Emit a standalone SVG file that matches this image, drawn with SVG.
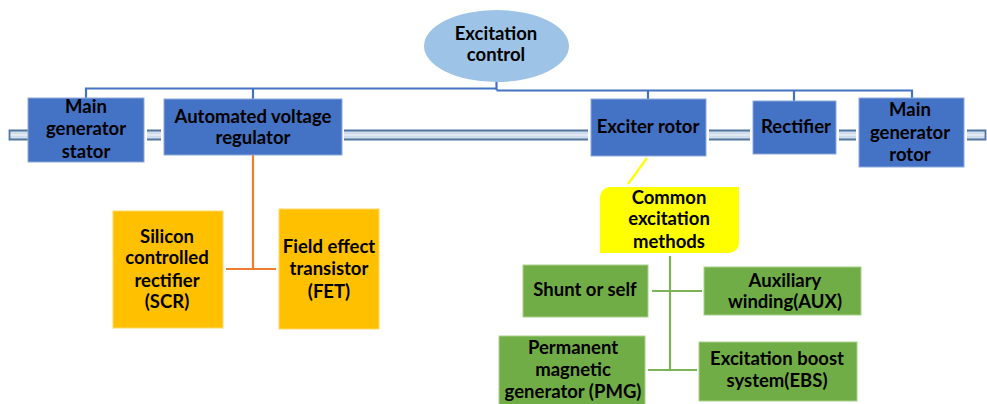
<svg xmlns="http://www.w3.org/2000/svg" width="987" height="404" viewBox="0 0 987 404">
<style>
text{font-family:Lato,"Liberation Sans",sans-serif;font-weight:bold;font-size:18.5px;fill:#000;text-anchor:middle}
.blue{fill:#4472c4;stroke:#8eaadb;stroke-width:1}
.gold{fill:#ffc000;stroke:#ffd966;stroke-width:1}
.green{fill:#70ad47;stroke:#a9d18e;stroke-width:1}
.sf{fill:#cfdcec}
.sw{stroke:#eef2f8;stroke-width:1.2;fill:none}
.sl{stroke:#52769e;stroke-width:1.8;fill:none}
.cb{stroke:#4472c4;stroke-width:2.2;fill:none}
.co{stroke:#ed7d31;stroke-width:2.2;fill:none}
.cy{stroke:#ffff00;stroke-width:2.2;fill:none}
.cg{stroke:#7cb356;stroke-width:2.2;fill:none}
</style>
<rect width="987" height="404" fill="#fff"/>
<g id="shaft">
<rect class="sf" x="9" y="131" width="19" height="8"/>
<path class="sw" d="M10 135H28"/>
<path class="sl" d="M28 130.5H9.5V139.5H28"/>
<rect class="sf" x="147" y="131" width="14" height="8"/>
<path class="sw" d="M147 135H161"/>
<path class="sl" d="M147 130.5H161M147 139.5H161"/>
<rect class="sf" x="344" y="131" width="244" height="8"/>
<path class="sw" d="M344 135H588"/>
<path class="sl" d="M344 130.5H588M344 139.5H588"/>
<rect class="sf" x="709" y="131" width="41" height="8"/>
<path class="sw" d="M709 135H750"/>
<path class="sl" d="M709 130.5H750M709 139.5H750"/>
<rect class="sf" x="839" y="131" width="17" height="8"/>
<path class="sw" d="M839 135H856"/>
<path class="sl" d="M839 130.5H856M839 139.5H856"/>
<rect class="sf" x="967" y="131" width="19" height="8"/>
<path class="sw" d="M967 135H985"/>
<path class="sl" d="M967 130.5H985.5V139.5H967"/>
</g>
<g id="connectors">
<path class="cb" d="M496.5 82V90M86 98V88.5H496.5M253 88.5V99M496.5 90.5H912V98M648 90.5V99M794 90.5V101"/>
<path class="co" d="M253 155V269M226 269H276"/>
<path class="cy" d="M647 158L628 184"/>
<path class="cg" d="M670 256V370M652 291H702M648 370H697"/>
</g>
<g id="excitation-control">
<ellipse cx="496.5" cy="46" rx="72.5" ry="36" fill="#9dc3e6"/>
<text x="496" y="40">Excitation</text>
<text x="496" y="61">control</text>
</g>
<g id="main-generator-stator">
<rect class="blue" x="28" y="98" width="116" height="64"/>
<text x="86" y="113">Main</text>
<text x="86" y="135">generator</text>
<text x="86" y="158">stator</text>
</g>
<g id="avr">
<rect class="blue" x="164" y="99" width="178" height="56"/>
<text x="253" y="123">Automated voltage</text>
<text x="253" y="144">regulator</text>
</g>
<g id="exciter-rotor">
<rect class="blue" x="591" y="99" width="115" height="57"/>
<text x="648" y="133">Exciter rotor</text>
</g>
<g id="rectifier">
<rect class="blue" x="753" y="101" width="83" height="53"/>
<text x="796" y="133">Rectifier</text>
</g>
<g id="main-generator-rotor">
<rect class="blue" x="859" y="98" width="105" height="69"/>
<text x="910" y="116">Main</text>
<text x="910" y="139">generator</text>
<text x="910" y="161">rotor</text>
</g>
<g id="scr">
<rect class="gold" x="113" y="211" width="110" height="117"/>
<text x="167" y="243">Silicon</text>
<text x="167" y="264">controlled</text>
<text x="167" y="287">rectifier</text>
<text x="167" y="308">(SCR)</text>
</g>
<g id="fet">
<rect class="gold" x="279" y="209" width="100" height="120"/>
<text x="329" y="253">Field effect</text>
<text x="329" y="275">transistor</text>
<text x="329" y="298">(FET)</text>
</g>
<g id="common-excitation-methods">
<path d="M610 187H739V243A10 10 0 0 1 729 253H600V197A10 10 0 0 1 610 187Z" fill="#ffff00"/>
<text x="669" y="204">Common</text>
<text x="669" y="225">excitation</text>
<text x="669" y="248">methods</text>
</g>
<g id="shunt">
<rect class="green" x="523" y="265" width="125" height="52"/>
<text x="585" y="296">Shunt or self</text>
</g>
<g id="aux">
<rect class="green" x="704" y="267" width="157" height="48"/>
<text x="785" y="287">Auxiliary</text>
<text x="785" y="308">winding(AUX)</text>
</g>
<g id="pmg">
<rect class="green" x="499" y="336" width="146" height="70"/>
<text x="573" y="354">Permanent</text>
<text x="573" y="376">magnetic</text>
<text x="573" y="398">generator (PMG)</text>
</g>
<g id="ebs">
<rect class="green" x="699" y="342" width="158" height="59"/>
<text x="777" y="365">Excitation boost</text>
<text x="777" y="387">system(EBS)</text>
</g>
</svg>
